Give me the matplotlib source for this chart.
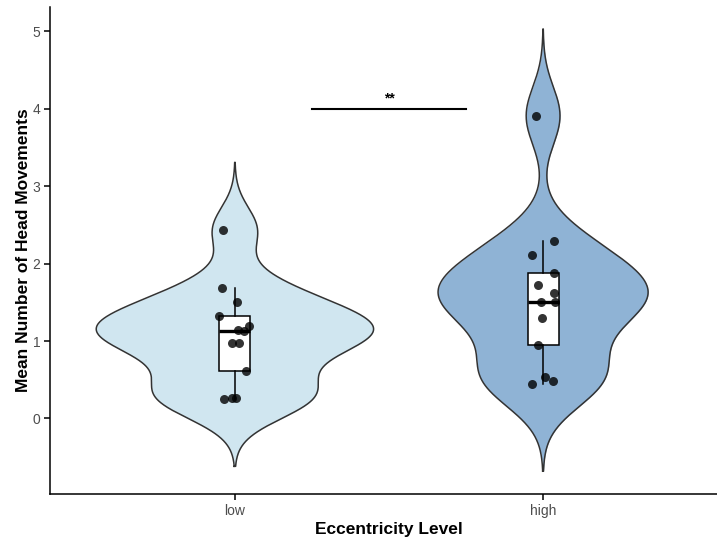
import numpy as np
import matplotlib.pyplot as plt

plt.rcParams["font.family"] = ["Liberation Sans", "DejaVu Sans"]

# ------ data

groups = ["low", "high"]
low_vals = [2.44, 1.68, 1.50, 1.33, 1.19, 1.14, 1.13, 0.97, 0.98, 0.61, 0.25, 0.26, 0.26]
high_vals = [3.91, 2.29, 2.11, 1.88, 1.72, 1.62, 1.51, 1.50, 1.30, 0.95, 0.54, 0.44, 0.48]
low_jitter = [-0.038, -0.043, 0.007, -0.050, 0.046, 0.009, 0.030, -0.011, 0.014, 0.035, -0.037, -0.009, 0.003]
high_jitter = [-0.024, 0.036, -0.036, 0.035, -0.017, 0.036, -0.006, 0.038, -0.004, -0.017, 0.007, -0.036, 0.033]
fills = ["#D0E6F0", "#8FB3D5"]
sig_label = "**"
sig_y = 4.0

values = [np.array(low_vals), np.array(high_vals)]
jitters = [low_jitter, high_jitter]
pos = np.arange(1, len(groups) + 1)


def nrd0(x):
    iqr = np.subtract(*np.percentile(x, [75, 25]))
    return 0.9 * min(np.std(x, ddof=1), iqr / 1.34) * len(x) ** -0.2


def kde(x, bw, grid):
    z = (grid[:, None] - x[None, :]) / bw
    return np.exp(-0.5 * z ** 2).sum(axis=1) / (len(x) * bw * np.sqrt(2 * np.pi))


# densities, ggplot style (trim = FALSE, scale = "area")
dens = []
for v in values:
    bw = nrd0(v)
    grid = np.linspace(v.min() - 3 * bw, v.max() + 3 * bw, 512)
    dens.append((grid, kde(v, bw, grid)))
dmax = max(d.max() for _, d in dens)

fig = plt.figure(figsize=(7.17, 5.40), dpi=100)
ax = fig.add_axes([50 / 717, 46 / 540, 678 / 717, 487 / 540])

for p, (grid, d), col in zip(pos, dens, fills):
    hw = d / dmax * 0.45
    ax.fill_betweenx(grid, p - hw, p + hw, color=col, lw=0, zorder=1)
    ax.plot(np.r_[p - hw, (p + hw)[::-1], p - hw[0]], np.r_[grid, grid[::-1], grid[0]],
            color="#333333", lw=1.1, zorder=2)

ax.boxplot(values, positions=pos, widths=0.1, showfliers=False, showcaps=False,
           patch_artist=True, whis=1.5, zorder=3,
           boxprops=dict(facecolor="white", edgecolor="black", lw=1.1),
           whiskerprops=dict(color="black", lw=1.1),
           medianprops=dict(color="black", lw=2.4))

for p, v, j in zip(pos, values, jitters):
    ax.scatter(p + np.array(j), v, s=42, color="black", alpha=0.8, lw=0, zorder=4)

ax.plot([1.25, 1.75], [sig_y, sig_y], color="black", lw=1.5, zorder=2)
ax.text(1.5, sig_y + 0.04, sig_label, ha="center", va="bottom", fontsize=10, fontweight="bold")

ax.set_xlim(0.4, 2.6)
ax.set_ylim(-0.976, 5.316)
ax.set_xticks(pos)
ax.set_xticklabels(groups)
ax.set_yticks(range(0, 6))
for s in ["top", "right"]:
    ax.spines[s].set_visible(False)
for s in ["left", "bottom"]:
    ax.spines[s].set_linewidth(1.1)
ax.tick_params(axis="both", length=4, width=1.1, color="black", labelsize=10, labelcolor="#4D4D4D", pad=3)
ax.set_xlabel("Eccentricity Level", fontsize=12.5, fontweight="bold", labelpad=3)
ax.set_ylabel("Mean Number of Head Movements", fontsize=12.5, fontweight="bold", labelpad=1)

fig.savefig("out.png", dpi=100)
